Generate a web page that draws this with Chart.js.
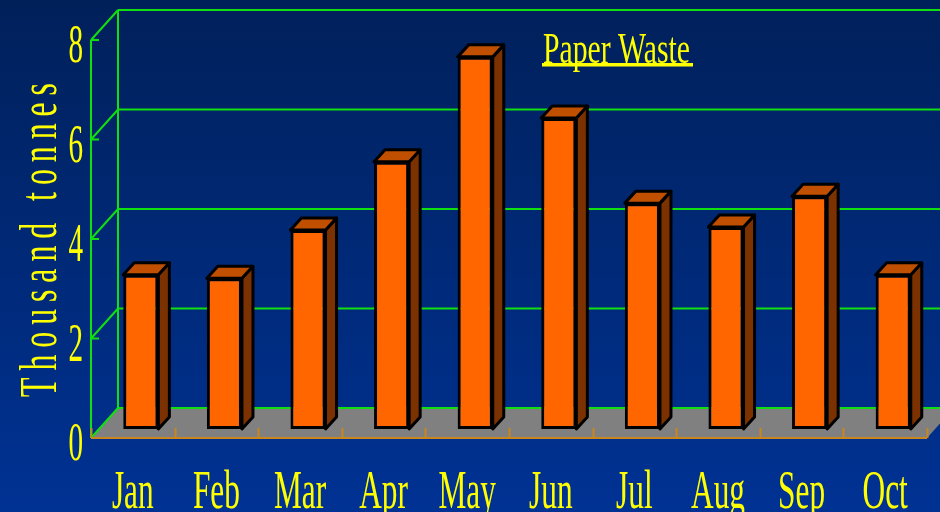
<!DOCTYPE html>
<html>
<head>
<meta charset="utf-8">
<script src="https://cdn.jsdelivr.net/npm/chart.js@4"></script>
<style>
  html, body { margin: 0; padding: 0; background: #002a78; }
  #wrap { width: 940px; height: 512px; }
</style>
</head>
<body>
<div id="wrap"><canvas id="wasteChart" width="940" height="512"></canvas></div>
<script>
const months = ['Jan', 'Feb', 'Mar', 'Apr', 'May', 'Jun', 'Jul', 'Aug', 'Sep', 'Oct'];
const paperWaste = [3.1, 3.03, 4.0, 5.37, 7.48, 6.25, 4.54, 4.06, 4.68, 3.1];
const yTicks = [0, 2, 4, 6, 8];
const chartTitle = 'Paper Waste';
const yTitle = 'Thousand tonnes';

const SERIF = "'Liberation Serif', 'Times New Roman', serif";
const YELLOW = '#ffff00';
const GREEN = '#10e010';

// depth of the 3d box, and where the bars sit inside it
const DX = 27, DY = -30;
const OX = 8, OY = -9;
const BDX = 11, BDY = -12;

function squeezedText(ctx, str, x, y, size, sx, align) {
  ctx.save();
  ctx.font = size + 'px ' + SERIF;
  ctx.textBaseline = 'alphabetic';
  ctx.textAlign = align || 'center';
  ctx.translate(x, y);
  ctx.scale(sx, 1);
  ctx.fillText(str, 0, 0);
  ctx.restore();
}

const box3d = {
  id: 'box3d',
  beforeDraw(chart) {
    const ctx = chart.ctx;
    const g = ctx.createLinearGradient(0, 0, 0, chart.height);
    g.addColorStop(0, '#00205a');
    g.addColorStop(1, '#003294');
    ctx.save();
    ctx.fillStyle = g;
    ctx.fillRect(0, 0, chart.width, chart.height);
    ctx.restore();
  },
  beforeDatasetsDraw(chart) {
    const ctx = chart.ctx;
    const a = chart.chartArea;
    const y = chart.scales.y;
    const zero = y.getPixelForValue(0);
    const top = y.getPixelForValue(yTicks[yTicks.length - 1]);

    ctx.save();
    // floor
    ctx.fillStyle = '#808080';
    ctx.beginPath();
    ctx.moveTo(a.left, zero);
    ctx.lineTo(a.left + DX, zero + DY);
    ctx.lineTo(a.right + DX, zero + DY);
    ctx.lineTo(a.right, zero);
    ctx.closePath();
    ctx.fill();

    // back wall grid + side diagonals
    ctx.strokeStyle = GREEN;
    ctx.lineWidth = 2;
    yTicks.forEach(v => {
      const py = y.getPixelForValue(v);
      ctx.beginPath();
      ctx.moveTo(a.left + DX, py + DY);
      ctx.lineTo(chart.width + 40, py + DY);
      ctx.moveTo(a.left, py);
      ctx.lineTo(a.left + DX, py + DY);
      ctx.moveTo(a.left, py);
      ctx.lineTo(a.left + 8, py);
      ctx.stroke();
    });
    ctx.beginPath();
    ctx.moveTo(a.left + DX, top + DY);
    ctx.lineTo(a.left + DX, zero + DY);
    ctx.moveTo(a.left, top);
    ctx.lineTo(a.left, zero);
    ctx.stroke();

    // front floor edge with category ticks
    ctx.strokeStyle = '#c8861c';
    ctx.beginPath();
    ctx.moveTo(a.left, zero);
    ctx.lineTo(a.right, zero);
    const catW = (a.right - a.left) / months.length;
    for (let i = 0; i <= months.length; i++) {
      const px = Math.round(a.left + i * catW) + 0.5;
      ctx.moveTo(px, zero);
      ctx.lineTo(px, zero - 10);
    }
    ctx.stroke();

    // side and top faces of the bars
    ctx.translate(OX, OY);
    ctx.strokeStyle = '#000';
    ctx.lineWidth = 3;
    ctx.lineJoin = 'round';
    chart.getDatasetMeta(0).data.forEach(bar => {
      const p = bar.getProps(['x', 'y', 'base', 'width'], true);
      const L = p.x - p.width / 2, R = p.x + p.width / 2;
      ctx.fillStyle = '#7c3200';
      ctx.beginPath();
      ctx.moveTo(R, p.y);
      ctx.lineTo(R + BDX, p.y + BDY);
      ctx.lineTo(R + BDX, p.base + BDY);
      ctx.lineTo(R, p.base);
      ctx.closePath();
      ctx.fill();
      ctx.stroke();
      ctx.fillStyle = '#c05000';
      ctx.beginPath();
      ctx.moveTo(L, p.y);
      ctx.lineTo(L + BDX, p.y + BDY);
      ctx.lineTo(R + BDX, p.y + BDY);
      ctx.lineTo(R, p.y);
      ctx.closePath();
      ctx.fill();
      ctx.stroke();
    });
    ctx.restore();

    // front faces drawn by chart.js, shifted into the box
    ctx.save();
    ctx.translate(OX, OY);
  },
  afterDatasetsDraw(chart) {
    chart.ctx.restore();
  },
  afterDraw(chart) {
    const ctx = chart.ctx;
    const a = chart.chartArea;
    const x = chart.scales.x;
    const y = chart.scales.y;
    ctx.save();
    ctx.fillStyle = YELLOW;

    months.forEach((m, i) => {
      squeezedText(ctx, m, x.getPixelForValue(i), 508, 54, 0.58, 'center');
    });
    yTicks.forEach(v => {
      squeezedText(ctx, String(v), a.left - 8, y.getPixelForValue(v) + 22, 54, 0.54, 'right');
    });

    // chart title, underlined
    squeezedText(ctx, chartTitle, 543, 63, 45, 0.66, 'left');
    ctx.fillRect(542, 63, 151, 3.5);

    // y axis title, rotated and letter spaced
    ctx.save();
    ctx.translate(56, 397);
    ctx.rotate(-Math.PI / 2);
    ctx.font = '53px ' + SERIF;
    ctx.textBaseline = 'alphabetic';
    const sx = 0.6;
    const chars = yTitle.split('');
    const plain = chars.reduce((s, c) => s + ctx.measureText(c).width * sx, 0);
    const gap = (314 - plain) / (chars.length - 1);
    let pos = 0;
    chars.forEach(c => {
      ctx.save();
      ctx.translate(pos, 0);
      ctx.scale(sx, 1);
      ctx.fillText(c, 0, 0);
      ctx.restore();
      pos += ctx.measureText(c).width * sx + gap;
    });
    ctx.restore();

    ctx.restore();
  }
};

new Chart(document.getElementById('wasteChart'), {
  type: 'bar',
  data: {
    labels: months,
    datasets: [{
      label: chartTitle,
      data: paperWaste,
      backgroundColor: '#ff6600',
      borderColor: '#000000',
      borderWidth: 3,
      borderSkipped: false,
      categoryPercentage: 1,
      barPercentage: 0.42,
      clip: false
    }]
  },
  options: {
    responsive: false,
    animation: false,
    layout: { padding: { left: 91, right: 13, top: 40, bottom: 74 } },
    plugins: {
      legend: { display: false },
      tooltip: { enabled: false },
      title: { display: false }
    },
    scales: {
      x: { display: false },
      y: {
        display: false,
        min: 0,
        max: 8,
        ticks: { stepSize: 2 }
      }
    }
  },
  plugins: [box3d]
});
</script>
</body>
</html>
